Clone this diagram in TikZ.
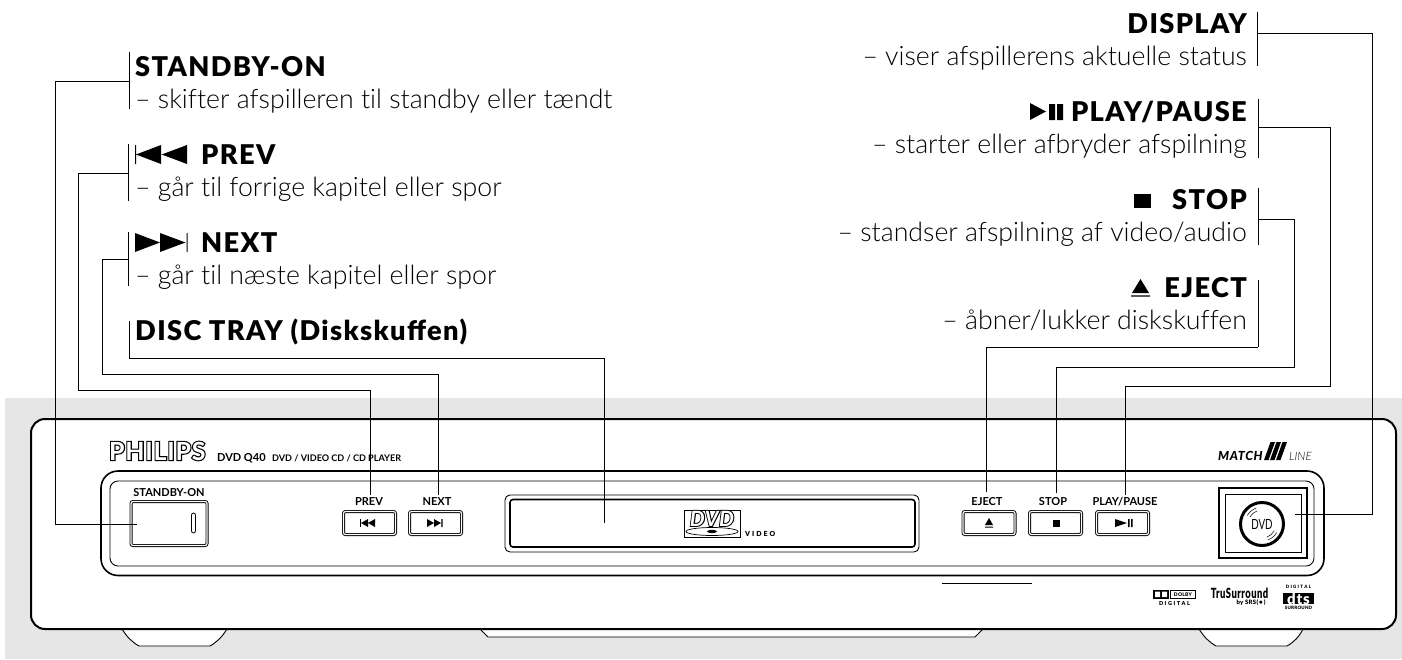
\documentclass[tikz,border=0pt]{standalone}
\usepackage{fontspec}
\setmainfont{Lato}
\newfontfamily\lightfont[Ligatures=NoCommon]{Lato Light}
\newfontfamily\blackfont[LetterSpace=5]{Lato Black}
\newfontfamily\logofont[FakeBold=9,LetterSpace=3]{Lato Bold}
\newfontfamily\logoinner[LetterSpace=3]{Lato Bold}
\usetikzlibrary{positioning}

\definecolor{bandgray}{HTML}{e6e6e6}

\tikzset{
    conn/.style={line width=1pt, line join=miter},
    bar/.style={line width=1pt},
    head/.style={font=\blackfont\fontsize{27.2}{27.2}\selectfont, inner sep=0pt},
    descr/.style={font=\lightfont\fontsize{26.7}{26.7}\selectfont, inner sep=0pt},
    tiny/.style={font=\bfseries\fontsize{11}{11}\selectfont, inner sep=0pt},
    btn/.style={draw, rounded corners=2pt, double=white, double distance=1.2pt, line width=0.9pt, inner sep=0pt},
    ink/.style={fill=black, draw=none},
}

\begin{document}
\begin{tikzpicture}[x=1pt, y=-1pt]
    \useasboundingbox (0,0) rectangle (1402,659);
    \fill[white] (0,0) rectangle (1402,659);
    \fill[bandgray] (5,398) rectangle (1402,659);

    % feet
    \draw[line width=0.9pt, fill=white] (122,629) .. controls (127,637) and (132,642) .. (139,646) -- (210,646) .. controls (217,642) and (222,637) .. (227,629);
    \draw[line width=0.9pt, fill=white] (1199,629) .. controls (1204,637) and (1209,642) .. (1216,646) -- (1287,646) .. controls (1294,642) and (1299,637) .. (1303,629);
    \draw[line width=0.9pt, fill=white] (480,629) -- (488,637) -- (975,637) -- (983,629);

    % player front
    \draw[line width=2pt, fill=white, rounded corners=14pt] (31,419) rectangle (1396,629);
    \draw[line width=1.6pt, rounded corners=17pt] (101,471) rectangle (1324,575.5);
    \draw[line width=0.9pt, rounded corners=8pt] (110,481) rectangle (1314,566);
    \draw[line width=0.9pt] (942,583) -- (1032,583);

    % logo line
    \node[anchor=base west, inner sep=0pt, font=\logofont\fontsize{25}{25}\selectfont] (philipsback) at (109,460) {PHILIPS};
    \node[anchor=base west, inner sep=0pt, font=\logoinner\fontsize{25}{25}\selectfont, white] (philips) at (109,460) {PHILIPS};
    \node[anchor=base west, inner sep=0pt, font=\bfseries\fontsize{11}{11}\selectfont] (model) at (217,461) {DVD Q40};
    \node[anchor=base west, inner sep=0pt, font=\bfseries\fontsize{9.1}{9.1}\selectfont] (modeltype) at (272,461) {DVD / VIDEO CD / CD PLAYER};
    \node[anchor=base west, inner sep=0pt, font=\blackfont\itshape\fontsize{12.5}{12.5}\selectfont] (match) at (1218,460) {MATCH};
    \foreach \xpos in {1264,1270,1276}{
        \fill[ink] (\xpos,460) -- (\xpos+4.5,460) -- (\xpos+11,442) -- (\xpos+6.5,442) -- cycle;
    }
    \node[anchor=base west, inner sep=0pt, font=\lightfont\itshape\fontsize{11.5}{11.5}\selectfont] (matchline) at (1289,460) {LINE};

    % standby
    \node[tiny, anchor=base] (standbylabel) at (169,496) {STANDBY-ON};
    \node[btn, minimum width=76pt, minimum height=44pt] (standbybtn) at (169,523.5) {};
    \draw[line width=0.8pt, rounded corners=2pt] (191.5,513) rectangle (195.5,533);

    % small buttons
    \foreach \name/\xpos in {prev/369.5, next/435.5, eject/989, stop/1055.5, play/1122.5}{
        \node[btn, minimum width=52pt, minimum height=23pt] (\name btn) at (\xpos,523) {};
    }
    \node[tiny, anchor=base] (prevlabel) at (369,505.5) {PREV};
    \node[tiny, anchor=base] (nextlabel) at (437,505.5) {NEXT};
    \node[tiny, anchor=base] (ejectlabel) at (987,505.5) {EJECT};
    \node[tiny, anchor=base] (stoplabel) at (1053,505.5) {STOP};
    \node[tiny, anchor=base] (playlabel) at (1125,505.5) {PLAY/PAUSE};

    % glyphs on the buttons
    \fill[ink] (359.5,519) rectangle (360.7,527);
    \fill[ink] (361,523) -- (368,519) -- (368,527) -- cycle (368,523) -- (375,519) -- (375,527) -- cycle;
    \fill[ink] (427,519) -- (434,523) -- (427,527) -- cycle (434,519) -- (441,523) -- (434,527) -- cycle (441.3,519) rectangle (442.5,527);
    \fill[ink] (985,525) -- (989,518) -- (993,525) -- cycle (985,526.5) rectangle (993,527.7);
    \fill[ink] (1052.5,519.5) rectangle (1059.5,526.5);
    \fill[ink] (1115,519) -- (1127,523) -- (1115,527) -- cycle (1128,519) rectangle (1129.5,527) (1131,519) rectangle (1132.5,527);

    % tray
    \draw[line width=0.9pt, rounded corners=5pt] (505,495) rectangle (919,552);
    \draw[line width=1.6pt, rounded corners=3pt] (510,499.5) rectangle (915,547);
    \draw[line width=0.7pt] (684,510) rectangle (740,537);
    \node[anchor=base, inner sep=0pt, font=\logofont\itshape\fontsize{21}{21}\selectfont] (dvdback) at (712,526) {DVD};
    \node[anchor=base, inner sep=0pt, font=\logoinner\itshape\fontsize{21}{21}\selectfont, white] (dvdlogo) at (712,526) {DVD};
    \draw[line width=0.7pt, fill=white] (712,531.5) ellipse (26 and 4);
    \draw[ink] (712,531.5) ellipse (5 and 1.6);
    \node[anchor=base west, inner sep=0pt, font=\blackfont\fontsize{7}{7}\selectfont] (videolabel) at (745,536) {V I D E O};

    % dvd window
    \draw[line width=1.3pt] (1219,488) rectangle (1307,558);
    \draw[line width=0.9pt] (1225,494) rectangle (1301,552);
    \draw[line width=3pt] (1262,524) circle (21.5);
    \foreach \rad in {14,17}{
        \draw[line width=0.5pt] (1262,524) ++(-110:\rad) arc[start angle=-110, end angle=-150, radius=\rad];
        \draw[line width=0.5pt] (1262,524) ++(70:\rad) arc[start angle=70, end angle=30, radius=\rad];
    }
    \node[anchor=center, inner sep=0pt, font=\fontsize{14}{14}\selectfont, xscale=0.7] (dvdwindow) at (1262,524) {DVD};

    % brand marks
    \draw[line width=0.7pt] (1170.5,590.5) rectangle (1195,598);
    \fill[ink] (1153,590) rectangle (1169,598.5);
    \fill[white] (1155,591.5) rectangle (1160,597) (1162,591.5) rectangle (1167,597);
    \node[inner sep=0pt, font=\blackfont\fontsize{5}{5}\selectfont] (dolbytag) at (1183,594.3) {DOLBY};
    \node[inner sep=0pt, font=\blackfont\fontsize{5.5}{5.5}\selectfont] (dolbydigital) at (1174.5,603) {D I G I T A L};
    \node[inner sep=0pt, font=\blackfont\fontsize{14}{14}\selectfont, xscale=0.67] (trusurround) at (1239.5,593) {TruSurround};
    \node[inner sep=0pt, font=\blackfont\fontsize{6}{6}\selectfont] (srs) at (1251,603) {by SRS(\,●\,)};
    \node[inner sep=0pt, font=\blackfont\fontsize{4.5}{4.5}\selectfont] (dtstop) at (1298.5,587) {D I G I T A L};
    \node[fill=black, text=white, inner sep=0pt, minimum width=31pt, minimum height=11.5pt, font=\blackfont\fontsize{15}{11}\selectfont] (dts) at (1298.5,598.5) {dts};
    \node[inner sep=0pt, font=\blackfont\fontsize{4.5}{4.5}\selectfont] (dtsbottom) at (1298.5,607.5) {SURROUND};

    % left captions
    \node[head, anchor=base west] (standbyhead) at (135,76) {STANDBY-ON};
    \node[descr, anchor=base west] (standbytext) at (135,108) {– skifter afspilleren til standby eller tændt};
    \fill[ink] (135,145) rectangle (136,164) (136,154.5) -- (161,145) -- (161,164) -- cycle (161.7,154.5) -- (187,145) -- (187,164) -- cycle;
    \node[head, anchor=base west] (prevhead) at (201,164) {PREV};
    \node[descr, anchor=base west] (prevtext) at (135,196) {– går til forrige kapitel eller spor};
    \fill[ink] (135,233) -- (160,242.5) -- (135,252) -- cycle (160,233) -- (185.5,242.5) -- (160,252) -- cycle (186.5,233) rectangle (187.5,252);
    \node[head, anchor=base west] (nexthead) at (201,252) {NEXT};
    \node[descr, anchor=base west] (nexttext) at (135,284) {– går til næste kapitel eller spor};
    \node[head, anchor=base west] (trayhead) at (135,340) {DISC TRAY (Diskskuffen)};

    % right captions
    \node[head, anchor=base east] (displayhead) at (1247,33) {DISPLAY};
    \node[descr, anchor=base east] (displaytext) at (1247,65) {– viser afspillerens aktuelle status};
    \fill[ink] (1030,103) -- (1046,111.5) -- (1030,120) -- cycle (1049,104) rectangle (1055,120) (1057,104) rectangle (1063,120);
    \node[head, anchor=base east] (playhead) at (1247,121) {PLAY/PAUSE};
    \node[descr, anchor=base east] (playtext) at (1247,153) {– starter eller afbryder afspilning};
    \fill[ink] (1134,194) rectangle (1151,208);
    \node[head, anchor=base east] (stophead) at (1247,209) {STOP};
    \node[descr, anchor=base east] (stoptext) at (1247,241) {– standser afspilning af video/audio};
    \fill[ink] (1132,293) -- (1140.5,279) -- (1149,293) -- cycle (1131,295.3) rectangle (1150,296.5);
    \node[head, anchor=base east] (ejecthead) at (1247,297) {EJECT};
    \node[descr, anchor=base east] (ejecttext) at (1247,329) {– åbner/lukker diskskuffen};

    % leader points
    \coordinate (standbytop) at (129,52);
    \coordinate (standbybot) at (129,109);
    \coordinate (standbyjoin) at (129,81.5);
    \coordinate (standbyknee) at (55.5,524);
    \coordinate (standbyend) at (137,524);
    \coordinate (prevtop) at (128,144);
    \coordinate (prevbot) at (128,201);
    \coordinate (prevjoin) at (128,173);
    \coordinate (prevknee) at (78.7,390);
    \coordinate (prevend) at (370,495);
    \coordinate (nexttop) at (128.5,232);
    \coordinate (nextbot) at (128.5,286);
    \coordinate (nextjoin) at (128.5,259);
    \coordinate (nextknee) at (102,374);
    \coordinate (nextend) at (438,495);
    \coordinate (traytop) at (129,321);
    \coordinate (trayjoin) at (129,358);
    \coordinate (trayend) at (604.7,523);
    \coordinate (displaytop) at (1257,12);
    \coordinate (displaybot) at (1257,66);
    \coordinate (displayjoin) at (1257,33);
    \coordinate (displayknee) at (1372.7,514);
    \coordinate (displayend) at (1295,514);
    \coordinate (playtop) at (1258,99);
    \coordinate (playbot) at (1258,158);
    \coordinate (playjoin) at (1258,127);
    \coordinate (playknee) at (1330.7,386);
    \coordinate (playend) at (1125.5,495);
    \coordinate (stoptop) at (1258,188);
    \coordinate (stopbot) at (1258,245);
    \coordinate (stopjoin) at (1258,219);
    \coordinate (stopknee) at (1294,367);
    \coordinate (stopend) at (1056.7,493);
    \coordinate (ejecttop) at (1258,280);
    \coordinate (ejectjoin) at (1258,347);
    \coordinate (ejectend) at (986.7,492);

    % bars and leaders
    \foreach \name in {standby,prev,next,display,play,stop}{
        \draw[bar] (\name top) -- (\name bot);
    }
    \draw[bar] (traytop) -- (trayjoin);
    \draw[bar] (ejecttop) -- (ejectjoin);
    \foreach \name in {standby,prev,next,display,play,stop}{
        \draw[conn] (\name join) -| (\name knee) -| (\name end);
    }
    \draw[conn] (trayjoin) -| (trayend);
    \draw[conn] (ejectjoin) -| (ejectend);
\end{tikzpicture}
\end{document}
